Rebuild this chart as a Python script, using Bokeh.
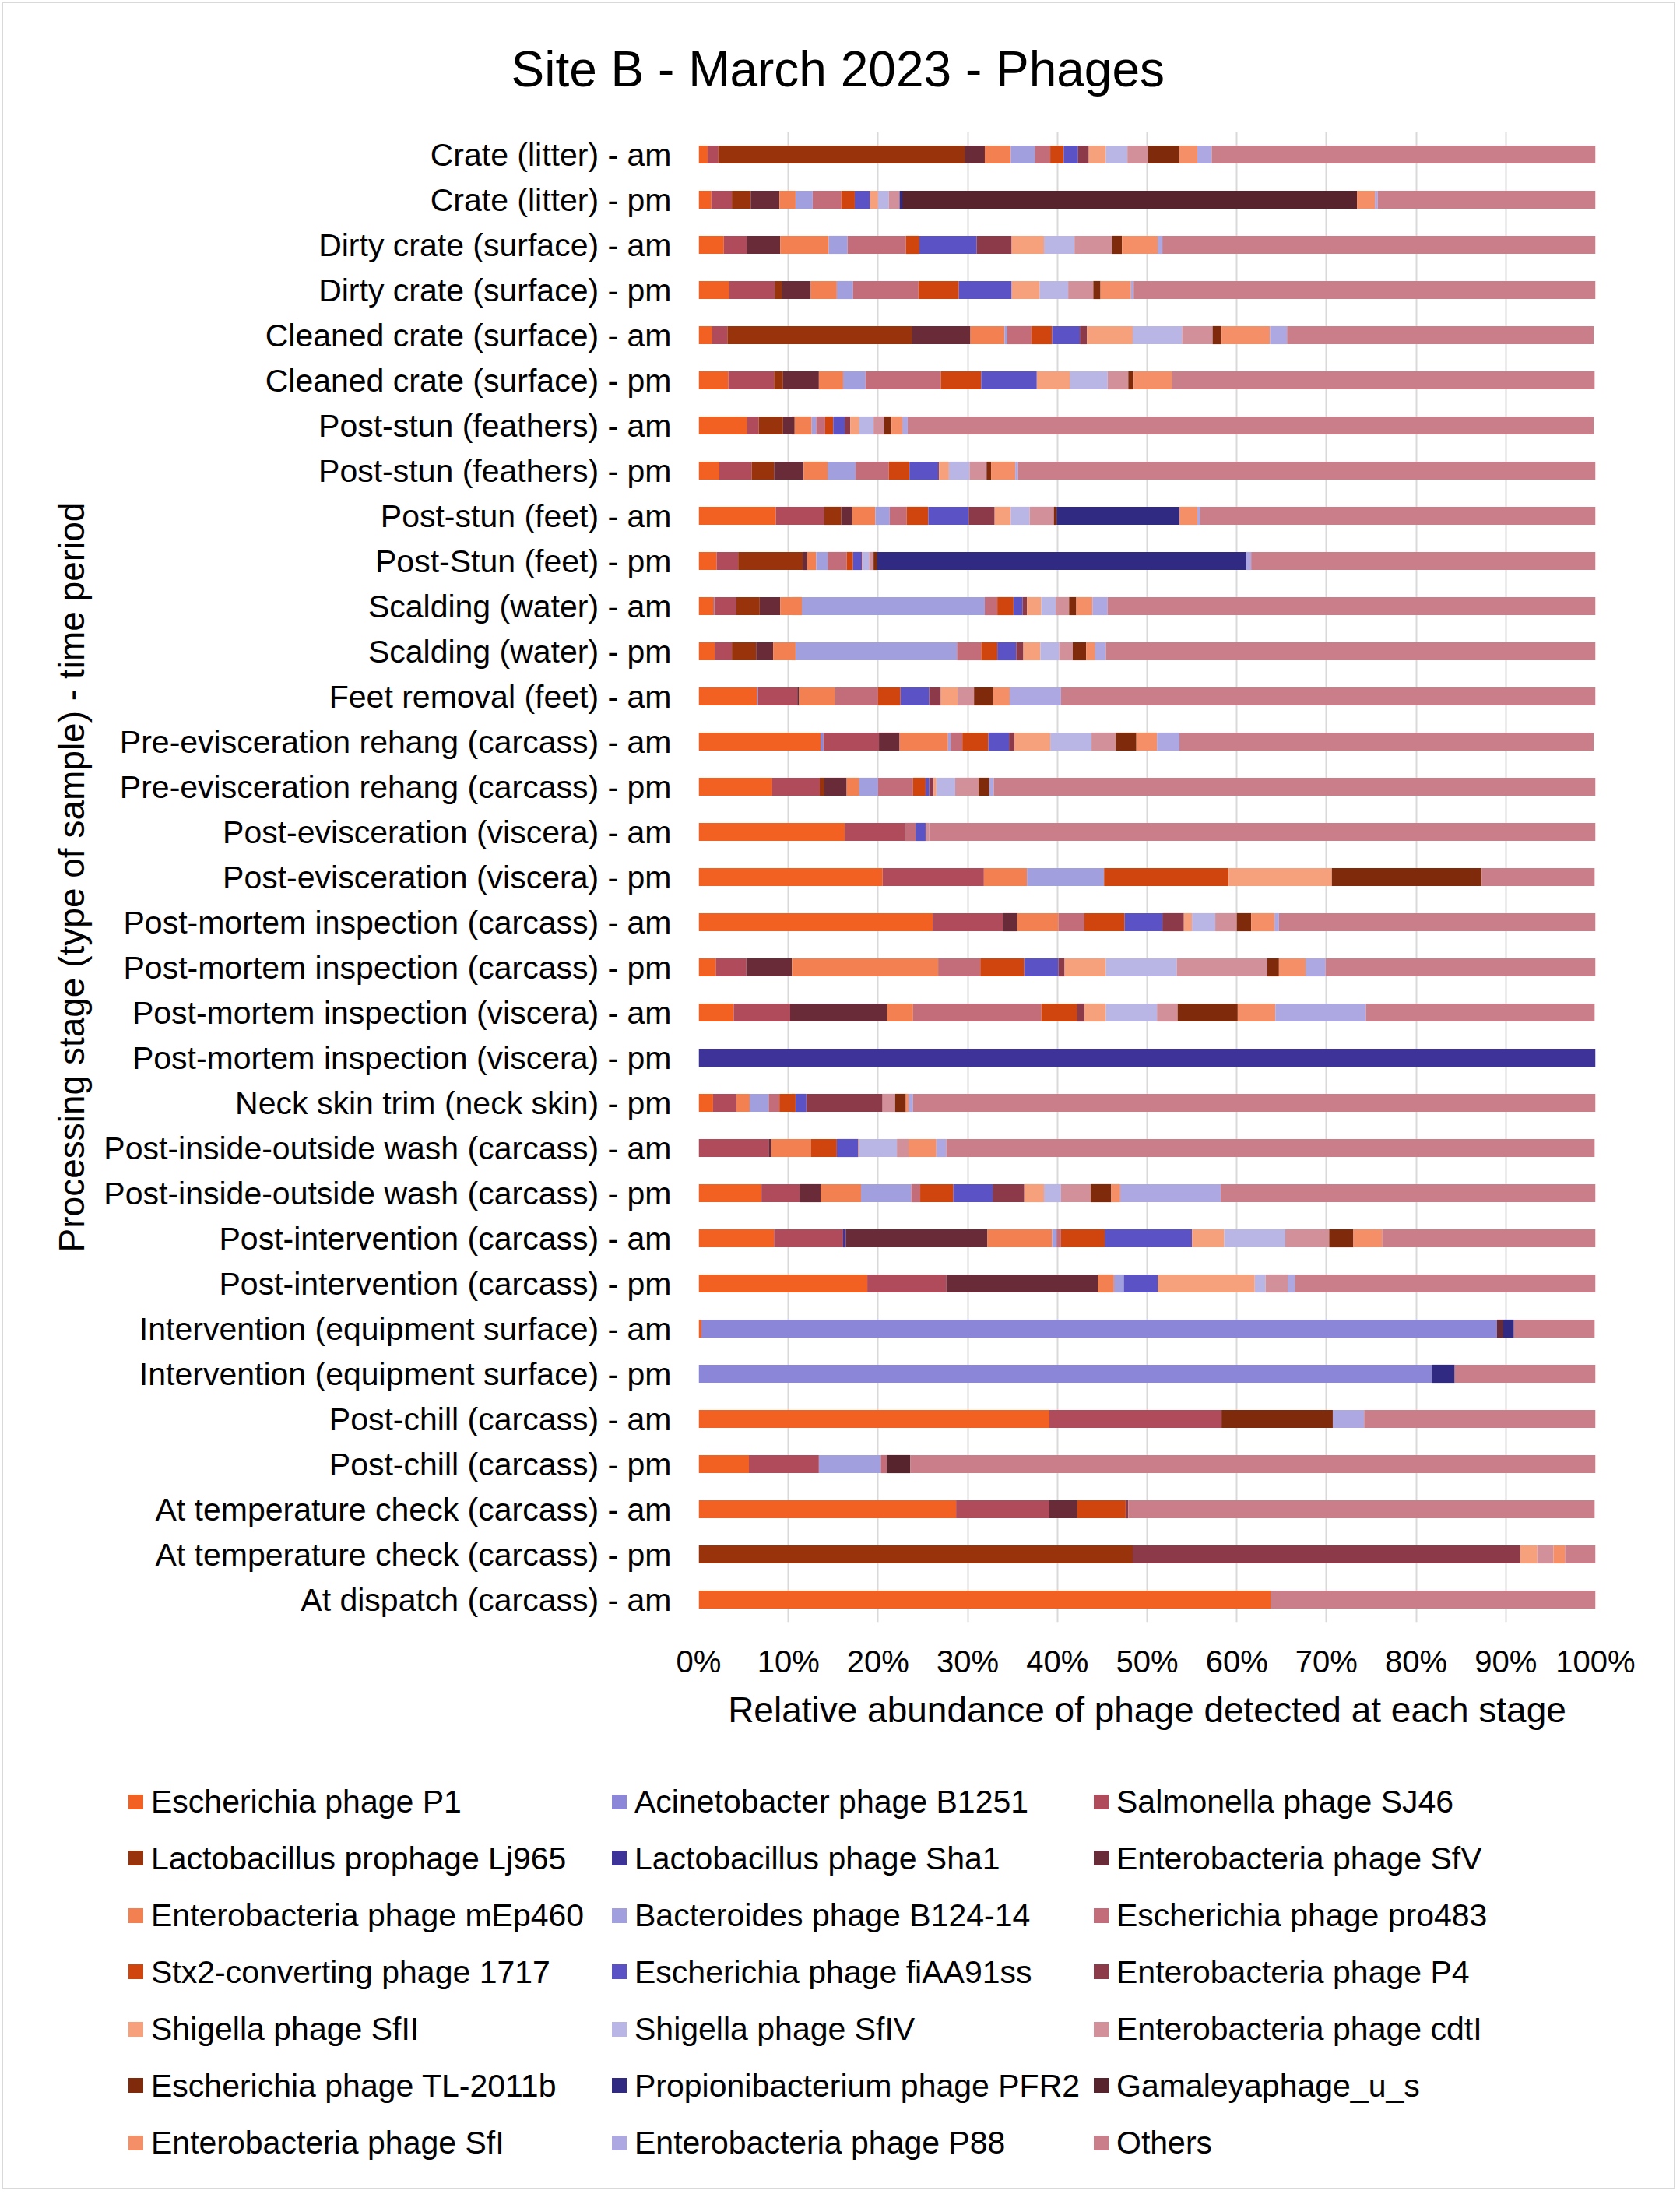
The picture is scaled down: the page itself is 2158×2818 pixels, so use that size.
from bokeh.plotting import figure
from bokeh.models import (ColumnDataSource, FactorRange, Range1d, FixedTicker,
                          PrintfTickFormatter, Title, Div)
from bokeh.layouts import column
from bokeh.embed import file_html
from bokeh.resources import INLINE

FONT = "Liberation Sans"

categories = [
    "Crate (litter) - am", "Crate (litter) - pm",
    "Dirty crate (surface) - am", "Dirty crate (surface) - pm",
    "Cleaned crate (surface) - am", "Cleaned crate (surface) - pm",
    "Post-stun (feathers) - am", "Post-stun (feathers) - pm",
    "Post-stun (feet) - am", "Post-Stun (feet) - pm",
    "Scalding (water) - am", "Scalding (water) - pm",
    "Feet removal (feet) - am",
    "Pre-evisceration rehang (carcass) - am", "Pre-evisceration rehang (carcass) - pm",
    "Post-evisceration (viscera) - am", "Post-evisceration (viscera) - pm",
    "Post-mortem inspection (carcass) - am", "Post-mortem inspection (carcass) - pm",
    "Post-mortem inspection (viscera) - am", "Post-mortem inspection (viscera) - pm",
    "Neck skin trim (neck skin) - pm",
    "Post-inside-outside wash (carcass) - am", "Post-inside-outside wash (carcass) - pm",
    "Post-intervention (carcass) - am", "Post-intervention (carcass) - pm",
    "Intervention (equipment surface) - am", "Intervention (equipment surface) - pm",
    "Post-chill (carcass) - am", "Post-chill (carcass) - pm",
    "At temperature check (carcass) - am", "At temperature check (carcass) - pm",
    "At dispatch (carcass) - am",
]

series_names = [
    "Escherichia phage P1", "Acinetobacter phage B1251", "Salmonella phage SJ46",
    "Lactobacillus prophage Lj965", "Lactobacillus phage Sha1", "Enterobacteria phage SfV",
    "Enterobacteria phage mEp460", "Bacteroides phage B124-14", "Escherichia phage pro483",
    "Stx2-converting phage 1717", "Escherichia phage fiAA91ss", "Enterobacteria phage P4",
    "Shigella phage SfII", "Shigella phage SfIV", "Enterobacteria phage cdtI",
    "Escherichia phage TL-2011b", "Propionibacterium phage PFR2", "Gamaleyaphage_u_s",
    "Enterobacteria phage SfI", "Enterobacteria phage P88", "Others",
]

colors = [
    "#F26122", "#8B86D8", "#AF4B5B",
    "#98330B", "#3D3399", "#6A2B38",
    "#F38050", "#A29FDF", "#C26D79",
    "#D0440E", "#5B52C6", "#8C3A4A",
    "#F6A07C", "#B9B5E5", "#D2909A",
    "#7F2A0A", "#302A83", "#57232D",
    "#F48F68", "#ADA8E2", "#C97E8A",
]

# relative abundance (%) per stage, in the order of `categories`
p1       = [1.0, 1.4, 2.8, 3.4, 1.5, 3.3, 5.4, 2.3, 8.6, 2.0, 1.7, 1.8, 6.5, 13.6, 8.2, 16.3, 20.5, 26.1, 1.9, 3.9, 0, 1.6, 0, 7.0, 8.4, 18.8, 0.3, 0, 39.1, 5.6, 28.7, 0, 63.8]
b1251    = [0, 0, 0, 0, 0, 0, 0, 0, 0, 0, 0.1, 0, 0.1, 0.3, 0, 0, 0, 0, 0, 0, 0, 0, 0, 0, 0, 0, 88.7, 81.8, 0, 0, 0, 0, 0]
sj46     = [1.2, 2.3, 2.6, 5.1, 1.7, 5.1, 1.3, 3.6, 5.4, 2.4, 2.4, 1.9, 4.4, 6.2, 5.3, 6.7, 11.3, 7.8, 3.4, 6.3, 0, 2.6, 7.8, 4.3, 7.7, 8.8, 0, 0, 19.2, 7.8, 10.4, 0, 0]
lj965    = [27.5, 2.1, 0, 0.8, 20.6, 1.0, 2.7, 2.5, 1.9, 7.2, 2.6, 2.7, 0, 0, 0.5, 0, 0, 0, 0, 0, 0, 0, 0, 0, 0, 0, 0, 0, 0, 0, 0, 48.4, 0]
sha1     = [0, 0, 0, 0, 0, 0, 0, 0, 0, 0, 0, 0, 0, 0, 0, 0, 0, 0, 0, 0, 100, 0, 0, 0, 0.3, 0, 0, 0, 0, 0, 0, 0, 0]
sfv      = [2.2, 3.2, 3.7, 3.2, 6.5, 4.0, 1.3, 3.3, 1.2, 0.5, 2.3, 1.9, 0.2, 2.3, 2.5, 0, 0, 1.6, 5.1, 10.8, 0, 0, 0.3, 2.3, 15.8, 16.9, 0.7, 0, 0, 0, 3.1, 0, 0]
mep460   = [2.9, 1.8, 5.4, 2.9, 3.8, 2.7, 1.9, 2.7, 2.6, 1.0, 2.4, 2.5, 4.0, 5.4, 1.4, 0, 4.8, 4.6, 16.3, 2.9, 0, 1.5, 4.4, 4.5, 7.2, 1.8, 0, 0, 0, 0, 0, 0, 0]
b124_14  = [2.7, 1.9, 2.1, 1.8, 0.3, 2.5, 0.5, 3.1, 1.6, 1.3, 20.4, 18.0, 0, 0.3, 2.1, 0, 8.6, 0, 0, 0, 0, 2.1, 0, 5.6, 0.5, 1.1, 0, 0, 0, 6.9, 0, 0, 0]
pro483   = [1.7, 3.2, 6.5, 7.3, 2.7, 8.4, 1.0, 3.7, 1.9, 2.1, 1.4, 2.7, 4.8, 1.3, 3.9, 1.2, 0, 2.9, 4.7, 14.3, 0, 1.2, 0, 1.0, 0.5, 0, 0, 0, 0, 0.7, 0, 0, 0]
stx1717  = [1.5, 1.5, 1.5, 4.5, 2.3, 4.5, 0.9, 2.3, 2.4, 0.7, 1.8, 1.8, 2.5, 2.9, 1.4, 0, 13.9, 4.5, 4.9, 4.0, 0, 1.8, 2.9, 3.7, 4.9, 0, 0, 0, 0, 0, 5.4, 0, 0]
fiaa91ss = [1.6, 1.7, 6.4, 5.9, 3.1, 6.2, 1.3, 3.2, 4.5, 1.0, 1.0, 2.1, 3.2, 2.3, 0.4, 1.1, 0, 4.2, 3.8, 0, 0, 1.2, 2.4, 4.4, 9.7, 3.8, 0, 0, 0, 0, 0, 0, 0]
p4       = [1.2, 0, 3.9, 0, 0.8, 0, 0.6, 0.1, 2.9, 0, 0.5, 0.8, 1.3, 0.6, 0.5, 0, 0, 2.4, 0.7, 0.8, 0, 8.5, 0, 3.5, 0, 0, 0, 0, 0, 0, 0.3, 43.2, 0]
sfii     = [1.9, 0.9, 3.6, 3.1, 5.1, 3.7, 1.0, 1.1, 1.8, 0.1, 1.6, 1.9, 1.9, 4.0, 0.3, 0, 11.5, 0.9, 4.6, 2.4, 0, 0, 0.1, 2.2, 3.6, 10.8, 0, 0, 0, 0, 0, 1.9, 0]
sfiv     = [2.4, 1.2, 3.4, 3.2, 5.5, 4.2, 1.6, 2.3, 2.1, 0.7, 1.6, 2.1, 0, 4.6, 2.1, 0, 0, 2.6, 7.9, 5.7, 0, 0, 4.2, 1.9, 6.8, 1.2, 0, 0, 0, 0, 0, 0, 0]
cdti     = [2.3, 1.2, 4.2, 2.8, 3.4, 2.3, 1.2, 1.9, 2.7, 0.5, 1.5, 1.5, 1.8, 2.7, 2.6, 0.4, 0, 2.4, 10.1, 2.3, 0, 1.4, 1.3, 3.3, 4.9, 2.5, 0, 0, 0, 0, 0, 1.8, 0]
tl2011b  = [3.5, 0, 1.1, 0.8, 1.0, 0.6, 0.8, 0.5, 0.3, 0.4, 0.8, 1.5, 2.1, 2.3, 1.2, 0, 16.7, 1.6, 1.3, 6.7, 0, 1.2, 0, 2.3, 2.7, 0, 0, 0, 12.4, 0, 0, 0, 0]
pfr2     = [0, 0.3, 0, 0, 0, 0, 0, 0, 13.7, 41.2, 0, 0, 0, 0, 0, 0, 0, 0, 0, 0, 0, 0, 0, 0, 0, 0, 1.2, 2.5, 0, 0, 0, 0, 0]
gamaleya = [0, 50.7, 0, 0, 0, 0, 0, 0, 0, 0, 0, 0, 0, 0, 0, 0, 0, 0, 0, 0, 0, 0, 0, 0, 0, 0, 0, 0, 0, 2.6, 0, 0, 0]
sfi      = [2.0, 2.0, 4.0, 3.4, 5.4, 4.3, 1.2, 2.7, 2.0, 0, 1.8, 1.0, 1.9, 2.3, 0, 0, 0, 2.6, 3.0, 4.2, 0, 0.3, 3.1, 1.0, 3.2, 0, 0, 0, 0, 0, 0, 1.3, 0]
p88      = [1.6, 0.3, 0.5, 0.3, 1.9, 0, 0.6, 0.3, 0.3, 0.5, 1.7, 1.2, 5.7, 2.5, 0.5, 0, 0, 0.5, 2.2, 10.1, 0, 0.5, 1.1, 11.2, 0, 0.8, 0, 0, 3.5, 0, 0, 0, 0]
others   = [42.9, 24.5, 48.3, 51.5, 34.2, 47.1, 76.5, 64.7, 44.2, 38.5, 54.6, 54.8, 59.6, 46.2, 67.5, 74.3, 12.6, 35.3, 30.1, 25.5, 0, 76.1, 72.3, 41.9, 23.9, 33.6, 9.0, 15.7, 25.8, 76.5, 52.0, 3.4, 36.2]

x_ticks = [0, 10, 20, 30, 40, 50, 60, 70, 80, 90, 100]

series_values = [p1, b1251, sj46, lj965, sha1, sfv, mep460, b124_14, pro483, stx1717,
                 fiaa91ss, p4, sfii, sfiv, cdti, tl2011b, pfr2, gamaleya, sfi, p88, others]

data = {"stage": categories}
keys = []
for i, vals in enumerate(series_values):
    k = "s%d" % i
    data[k] = vals
    keys.append(k)
source = ColumnDataSource(data)

# outer frame of the whole chart: 2px margin + 2px light-grey border
OFF = 4
W, H = 2146, 2806
FRAME_L, FRAME_T = 897 - OFF, 169 - OFF
FRAME_W, FRAME_H = 1152, 1914
BOTTOM = 150
MAIN_H = FRAME_T + FRAME_H + BOTTOM
LEG_H = H - MAIN_H

p = figure(frame_width=FRAME_W, frame_height=FRAME_H,
           y_range=FactorRange(factors=list(reversed(categories))),
           x_range=Range1d(0, 100), output_backend="svg", toolbar_location=None, title=None,
           min_border_left=FRAME_L, min_border_right=W - FRAME_L - FRAME_W,
           min_border_top=FRAME_T, min_border_bottom=BOTTOM)

# spacer between frame and title, so the title sits near the top of the canvas
spacer = Title(text=" ", text_font=FONT, text_font_size="10px", standoff=30,
               text_color="#ffffff")
p.add_layout(spacer, "above")
title = Title(text="Site B - March 2023 - Phages", align="left", vertical_align="top",
              offset=(656 - OFF) - FRAME_L, standoff=0, text_font=FONT, text_font_size="64px",
              text_font_style="normal", text_color="#000000")
p.add_layout(title, "above")

renderers = p.hbar_stack(keys, y="stage", height=0.4, fill_color=colors, line_color=None,
                         source=source)

p.outline_line_color = None
p.ygrid.grid_line_color = None
p.xgrid.grid_line_color = "#d9d9d9"
p.xgrid.grid_line_width = 2
p.xaxis.ticker = FixedTicker(ticks=x_ticks)
p.xaxis.formatter = PrintfTickFormatter(format="%d%%")
for ax in (p.xaxis, p.yaxis):
    ax.axis_line_color = None
    ax.major_tick_line_color = None
    ax.minor_tick_line_color = None
    ax.major_tick_out = 0
    ax.major_label_text_font = FONT
    ax.major_label_text_color = "#000000"
    ax.axis_label_text_font = FONT
    ax.axis_label_text_font_style = "normal"
    ax.axis_label_text_color = "#000000"
    ax.axis_label_text_font_size = "46px"
p.yaxis.major_label_text_font_size = "41px"
p.xaxis.major_label_text_font_size = "40px"
p.yaxis.major_label_standoff = 35
p.xaxis.major_label_standoff = 28
p.yaxis.axis_label = "Processing stage (type of sample) - time period"
p.xaxis.axis_label = "Relative abundance of phage detected at each stage"
p.yaxis.axis_label_standoff = 12
p.xaxis.axis_label_standoff = 11

# legend: 3 columns, filled row by row, as real text below the chart
col_swatch_left = [165 - OFF, 786 - OFF, 1405 - OFF]
col_text_left = [194 - OFF, 815 - OFF, 1434 - OFF]
first_row_center = 2314 - OFF - MAIN_H
row_step = 73
SW = 19
parts = ['<div style="position:relative;width:%dpx;height:%dpx;font-family:\'%s\';'
         'font-size:41px;color:#000000;background:#ffffff;">' % (W, LEG_H, FONT)]
for i, (name, col) in enumerate(zip(series_names, colors)):
    r, c = divmod(i, 3)
    cy = first_row_center + r * row_step
    parts.append('<div style="position:absolute;left:%dpx;top:%dpx;width:%dpx;height:%dpx;'
                 'background:%s;"></div>' % (col_swatch_left[c], round(cy - SW / 2), SW, SW, col))
    parts.append('<div style="position:absolute;left:%dpx;top:%dpx;height:50px;line-height:50px;'
                 'white-space:nowrap;">%s</div>' % (col_text_left[c], cy - 25, name))
parts.append('</div>')
legend_div = Div(text="".join(parts), width=W, height=LEG_H, margin=0)

layout = column(p, legend_div, spacing=0, margin=(2, 2, 2, 2),
                styles={"border": "2px solid #d9d9d9", "box-sizing": "content-box"})
open("out.html", "w").write(file_html(layout, INLINE))
